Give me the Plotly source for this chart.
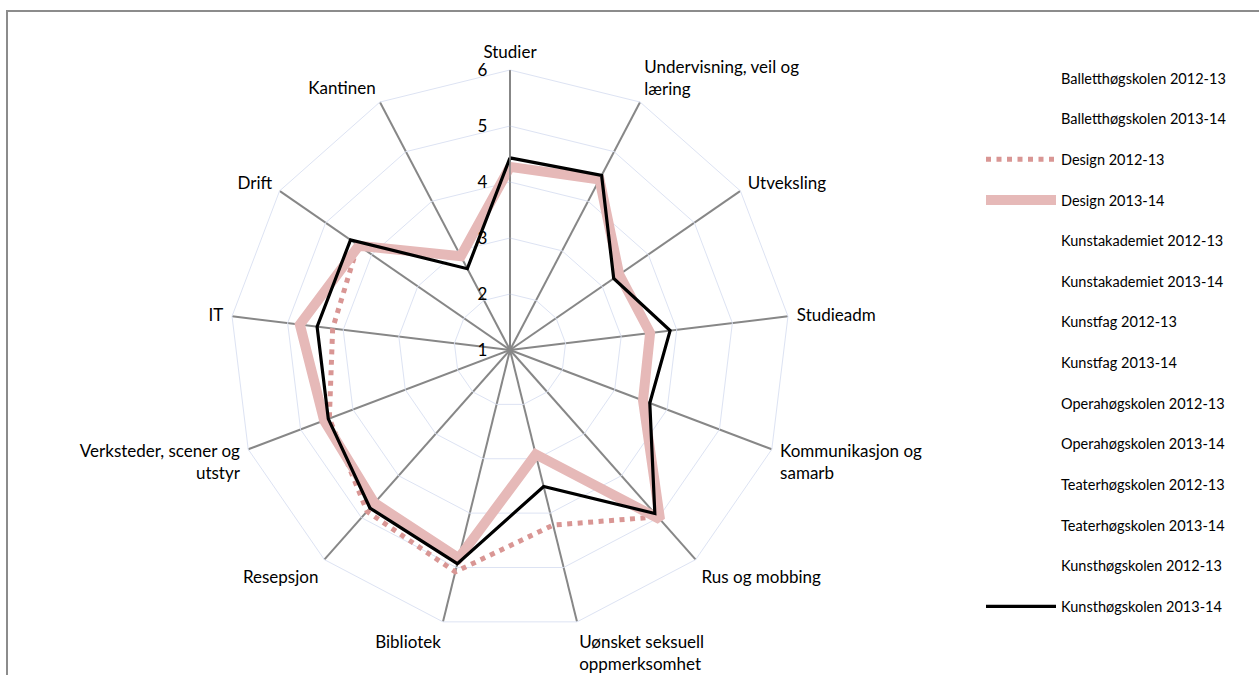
import plotly.graph_objects as go

# %% Data
categories = ['Studier', 'Undervisning, veil og<br>læring', 'Utveksling', 'Studieadm',
              'Kommunikasjon og<br>samarb', 'Rus og mobbing', 'Uønsket seksuell<br>oppmerksomhet',
              'Bibliotek', 'Resepsjon', 'Verksteder, scener og<br>utstyr', 'IT', 'Drift', 'Kantinen']

design_2012 = [4.27, 4.44, 3.35, 3.52, 3.54, 4.98, 4.22, 5.08, 4.85, 4.45, 4.19, 4.30, 2.89]
design_2013 = [4.27, 4.44, 3.37, 3.52, 3.54, 5.04, 2.92, 4.83, 4.65, 4.55, 4.78, 4.28, 2.89]
khio_2013 = [4.43, 4.52, 3.25, 3.88, 3.67, 4.90, 3.51, 4.93, 4.77, 4.47, 4.47, 4.46, 2.64]

series_names = ['Balletthøgskolen 2012-13', 'Balletthøgskolen 2013-14',
                'Design 2012-13', 'Design 2013-14',
                'Kunstakademiet 2012-13', 'Kunstakademiet 2013-14',
                'Kunstfag 2012-13', 'Kunstfag 2013-14',
                'Operahøgskolen 2012-13', 'Operahøgskolen 2013-14',
                'Teaterhøgskolen 2012-13', 'Teaterhøgskolen 2013-14',
                'Kunsthøgskolen 2012-13', 'Kunsthøgskolen 2013-14']

radial_ticks = [1, 2, 3, 4, 5, 6]

FONT = 'Lato'

def closed(values):
    return values + values[:1]

# %% Build figure
fig = go.Figure()

visible = {
    'Design 2012-13': dict(r=design_2012, line=dict(color='#d99694', width=5, dash='5px,5.5px')),
    'Design 2013-14': dict(r=design_2013, line=dict(color='#e6b9b8', width=10)),
    'Kunsthøgskolen 2013-14': dict(r=khio_2013, line=dict(color='black', width=3.2)),
}

# series without a drawn line only show up in the legend
for i, name in enumerate(series_names):
    if name not in visible:
        fig.add_trace(go.Scatterpolar(r=[None], theta=[categories[0]], mode='lines', name=name,
                                      line=dict(color='rgba(0,0,0,0)', width=2),
                                      legendgroup=name, legendrank=i + 1, hoverinfo='skip'))

# dotted 2012 under thick 2013 pink, black on top
for name in ['Design 2012-13', 'Design 2013-14', 'Kunsthøgskolen 2013-14']:
    spec = visible[name]
    fig.add_trace(go.Scatterpolar(r=closed(spec['r']), theta=closed(categories),
                                  mode='lines', name=name, line=spec['line'],
                                  legendgroup=name, legendrank=series_names.index(name) + 1))

W, H = 1259, 675
cx, cy, rad = 510, 350, 280

fig.update_layout(
    width=W, height=H,
    margin=dict(l=0, r=0, t=0, b=0),
    paper_bgcolor='white',
    font=dict(family=FONT, size=17, color='black'),
    polar=dict(
        domain=dict(x=[(cx - rad) / W, (cx + rad) / W],
                    y=[(H - cy - rad) / H, (H - cy + rad) / H]),
        bgcolor='white',
        gridshape='linear',
        angularaxis=dict(direction='clockwise', rotation=90,
                         gridcolor='#878787', gridwidth=1.5,
                         linecolor='#dde3f3', linewidth=1,
                         ticks='outside', ticklen=5, tickcolor='rgba(0,0,0,0)',
                         tickfont=dict(family=FONT, size=17)),
        radialaxis=dict(range=[1, 6], tickvals=radial_ticks, angle=90, tickangle=90,
                        side='counterclockwise',
                        gridcolor='#dde3f3', gridwidth=1,
                        showline=True, linecolor='#878787', linewidth=1.5,
                        ticks='outside', ticklen=16, tickcolor='rgba(0,0,0,0)',
                        tickfont=dict(family=FONT, size=17)),
    ),
    legend=dict(x=981 / W, xanchor='left', y=1 - 62 / H, yanchor='top',
                itemwidth=70, traceorder='grouped', tracegroupgap=18.8,
                font=dict(family=FONT, size=14.5, color='black'),
                bgcolor='rgba(0,0,0,0)'),
    shapes=[dict(type='rect', xref='paper', yref='paper',
                 x0=7 / W, x1=1.05, y0=-0.05, y1=1 - 11 / H,
                 line=dict(color='#8c8c8c', width=2))],
)

fig.write_html("out.html", config={'displayModeBar': False},
               post_script="document.body.style.margin = '0';")
